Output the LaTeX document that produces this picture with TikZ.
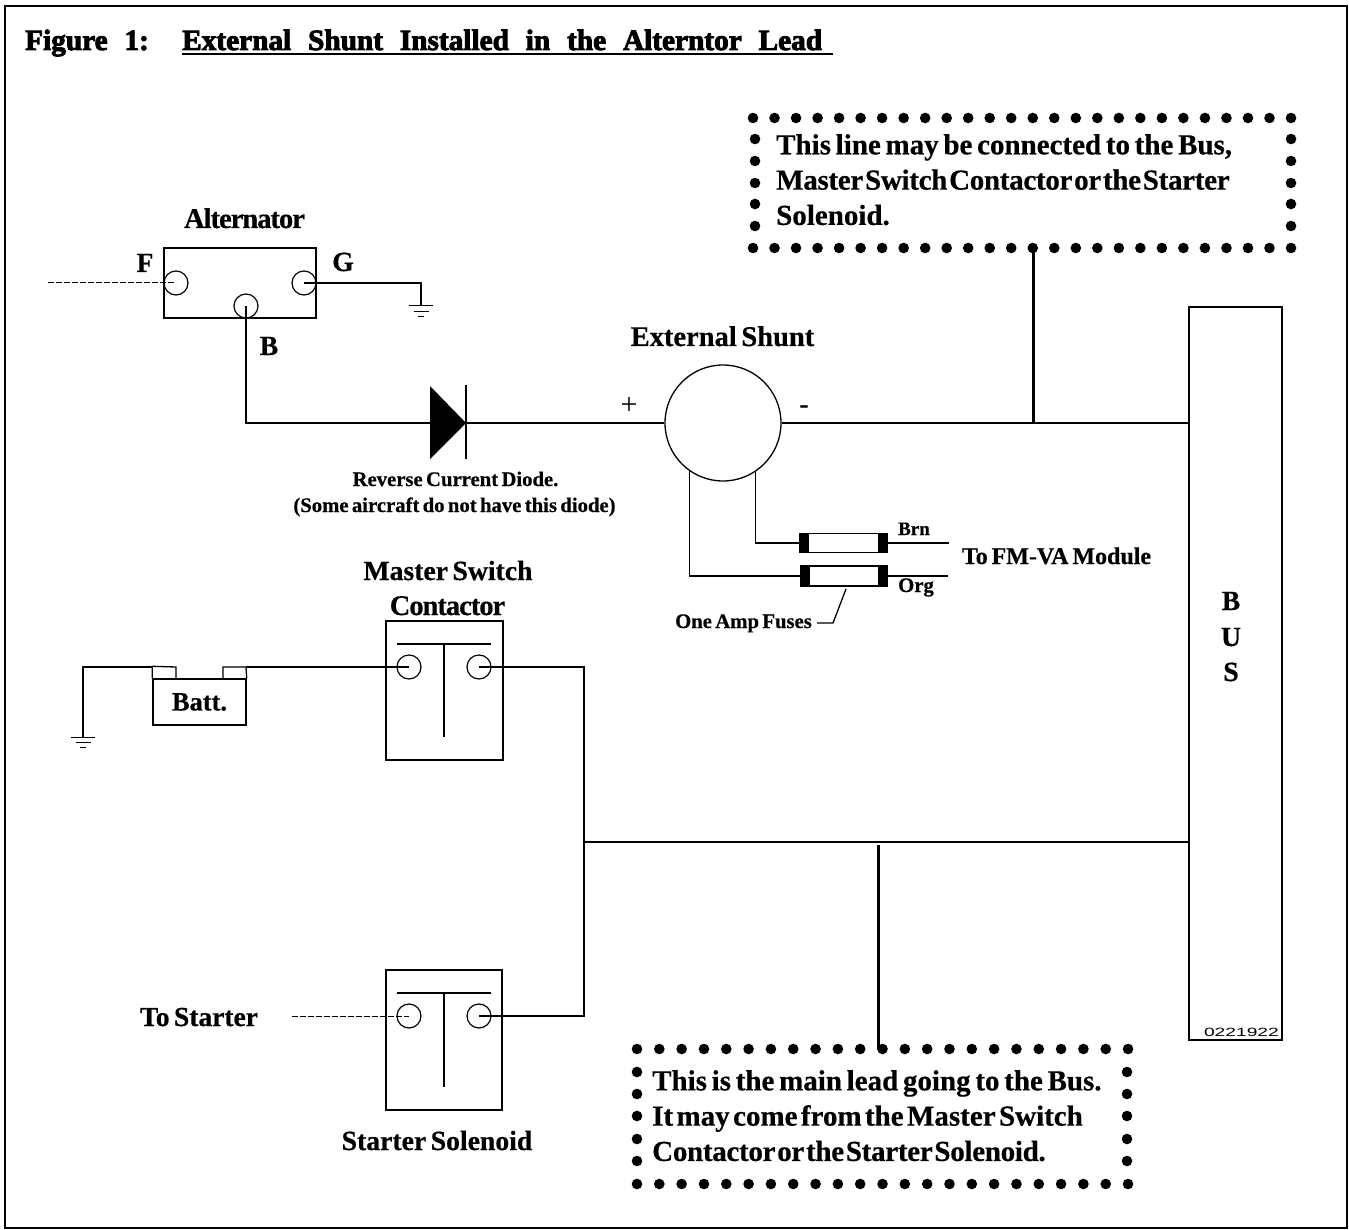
\documentclass[tikz,border=0pt]{standalone}
\usepackage{fontspec}
\setmainfont[WordSpace=0.65,BoldFeatures={FakeBold=0.5}]{Liberation Serif}
\newfontfamily\titlefont[WordSpace=2.3,BoldFeatures={FakeBold=3}]{Liberation Serif}
\newfontfamily\tagfont[FakeStretch=1.6]{Liberation Sans}
\newfontfamily\packedfont[WordSpace=0.25,LetterSpace=-1,BoldFeatures={FakeBold=0.5}]{Liberation Serif}
\newfontfamily\midfont[WordSpace=0.47,BoldFeatures={FakeBold=0.5}]{Liberation Serif}
\usetikzlibrary{positioning}
\tikzstyle{wire}=[line width=1.3pt]
\tikzstyle{thin wire}=[line width=1pt,dash pattern=on 6pt off 2pt]
\tikzstyle{tap}=[line width=3pt]
\tikzstyle{block}=[draw,line width=1.4pt,fill=white,rectangle,inner sep=0pt]
\tikzstyle{term}=[draw,line width=1.2pt,circle,minimum size=24pt,inner sep=0pt]
\tikzstyle{dot}=[fill=black]
\tikzstyle{note}=[inner sep=0pt,font=\fontsize{29}{35.3}\selectfont\bfseries,align=left]
\tikzstyle{big}=[inner sep=0pt,font=\fontsize{27.7}{35}\selectfont\bfseries]
\tikzstyle{tight}=[inner sep=0pt,font=\fontsize{28.5}{35}\selectfont\bfseries\addfontfeature{LetterSpace=-3.5}]
\tikzstyle{small}=[inner sep=0pt,font=\fontsize{20.7}{26}\selectfont\bfseries,align=center]
\tikzstyle{head}=[anchor=base west,inner sep=0pt,font=\fontsize{29.3}{30}\titlefont\bfseries]
\newcommand{\gnd}[1]{\draw[line width=1pt] (#1)+(-12,0) -- +(12,0) (#1)+(-7.5,5.5) -- +(7.5,5.5) (#1)+(-3,10.5) -- +(3,10.5);}
\newcommand{\packed}[1]{{\packedfont\bfseries #1}}
\begin{document}
\begin{tikzpicture}[x=1pt,y=-1pt]
    \useasboundingbox (0,0) rectangle (1349,1230);
    \draw[line width=2.6pt] (5,6) rectangle (1347,1228);

    \node[head] (fig) at (25,50) {Figure 1:};
    \node[head] (title) at (182,50) {External Shunt Installed in the Alterntor Lead};
    \draw[line width=2pt] (182,54) -- (833,54);

    % alternator
    \node[block,minimum width=152pt,minimum height=70pt] (alt) at (240,283) {};
    \node[tight,anchor=base] (altname) at (244.5,228) {Alternator};
    \node[term] (tF) at (176,283) {};
    \node[term] (tG) at (304,283) {};
    \node[term] (tB) at (246,306) {};
    \node[big,anchor=base] (lF) at (145,272) {F};
    \node[big,anchor=base] (lG) at (343,271) {G};
    \node[big,anchor=base] (lB) at (269,355) {B};
    \coordinate (fEnd) at (48,283);
    \coordinate (gndA) at (421,306);
    \draw[thin wire] (fEnd) -- (tF.center);
    \draw[wire] (tG.center) -| (gndA);
    \gnd{gndA}

    % diode
    \coordinate (dIn) at (430,423);
    \coordinate (dOut) at (466,423);
    \fill (430,386) -- (466,423) -- (430,459) -- cycle;
    \draw[line width=2pt] (466,385) -- (466,459);
    \draw[wire] (tB.center) |- (dIn);
    \node[small,anchor=base] (diode1) at (455.5,486) {Reverse Current Diode.};
    \node[small,anchor=base] (diode2) at (454.5,512) {(Some aircraft do not have this diode)};

    % shunt
    \node[draw,line width=1.3pt,circle,minimum size=116pt,inner sep=0pt] (shunt) at (723,423) {};
    \node[big,anchor=base,font=\fontsize{28.5}{35}\selectfont\bfseries] (shuntname) at (722.5,346) {External Shunt};
    \node[anchor=base,inner sep=0pt,font=\fontsize{30}{30}\selectfont] (plus) at (629,414) {+};
    \node[big,anchor=base] (minus) at (804,413) {-};

    % bus
    \node[block,minimum width=93pt,minimum height=733pt] (bus) at (1235.5,673.5) {};
    \node[big,anchor=base] (lbus1) at (1231,610) {B};
    \node[big,anchor=base] (lbus2) at (1231,646) {U};
    \node[big,anchor=base] (lbus3) at (1231,681) {S};
    \node[anchor=base east,inner sep=0pt,font=\fontsize{12}{13}\tagfont] (tag) at (1279,1036) {0221922};
    \coordinate (busA) at (bus.west |- shunt);
    \coordinate (busB) at (1189,842);
    \draw[wire] (dOut) -- (shunt.west);
    \draw[wire] (shunt.east) -- (busA);

    % fuses
    \node[block,minimum width=87pt,minimum height=19pt] (fuseA) at (843.5,543) {};
    \node[block,minimum width=86pt,minimum height=20pt] (fuseB) at (844,576) {};
    \fill (fuseA.north west) rectangle +(10,19);
    \fill (fuseA.north east) rectangle +(-10,19);
    \fill (fuseB.north west) rectangle +(10,20);
    \fill (fuseB.north east) rectangle +(-10,20);
    \coordinate (brnEnd) at (949,543);
    \coordinate (orgEnd) at (948,576);
    \draw[wire] (shunt.-56) |- (fuseA.west);
    \draw[wire] (shunt.-125) |- (fuseB.west);
    \draw[wire] (fuseA.east) -- (brnEnd);
    \draw[wire] (fuseB.east) -- (orgEnd);
    \node[small,anchor=base,font=\fontsize{19}{20}\selectfont\bfseries] (brn) at (914,535) {Brn};
    \node[small,anchor=base] (org) at (916,592) {Org};
    \node[big,anchor=base,font=\fontsize{24}{26}\selectfont\bfseries] (fm) at (1056.5,564) {To FM-VA Module};
    \node[small,anchor=base] (amp) at (743.5,628) {One Amp Fuses};
    \draw[wire] (846,589) -- (833,623) -- (817,623);

    % battery
    \node[block,minimum width=93pt,minimum height=46pt,font=\fontsize{26.4}{30}\selectfont\bfseries] (batt) at (199.5,702) {Batt.};
    \draw[wire] (batt.north west) -- +(0,-12) -- (176,667) -- (176,679);
    \draw[wire] (223,679) -- (223,667) -- (246,667) -- (batt.north east);
    \coordinate (gndB) at (83,737);
    \coordinate (battL) at (153,667);
    \coordinate (battR) at (246,667);
    \draw[wire] (gndB) |- (battL);
    \gnd{gndB}

    % master switch contactor
    \node[block,minimum width=117pt,minimum height=139pt] (master) at (444.5,690.5) {};
    \node[term] (m1) at (409,667) {};
    \node[term] (m2) at (479,667) {};
    \draw[wire] (397,644) -- (491,644) (444,644) -- (444,737);
    \node[big,anchor=base] (mname1) at (448,580) {Master Switch};
    \node[tight,anchor=base] (mname2) at (447.5,615) {Contactor};
    \draw[wire] (battR) -- (m1.center);

    % starter solenoid
    \node[block,minimum width=116pt,minimum height=140pt] (sol) at (444,1040) {};
    \node[term] (s1) at (409,1016) {};
    \node[term] (s2) at (479,1016) {};
    \draw[wire] (397,993) -- (491,993) (444,993) -- (444,1087);
    \node[big,anchor=base] (sname) at (437,1150) {Starter Solenoid};
    \node[big,anchor=base,font=\fontsize{27.5}{35}\selectfont\bfseries] (toS) at (199,1026) {To Starter};
    \coordinate (sEnd) at (292,1016);
    \draw[thin wire] (sEnd) -- (s1.center);

    % main lead
    \coordinate (tee) at (584,842);
    \draw[wire] (m2.center) -| (tee);
    \draw[wire] (s2.center) -| (tee);
    \draw[wire] (tee) -- (busB);

    % notes
    \foreach \i in {0,...,25} {
        \fill[dot] (753+\i*21.52,118) circle (5.3);
        \fill[dot] (753+\i*21.52,248) circle (5.3);
    }
    \foreach \y in {139,161,183,204,226} {
        \fill[dot] (755,\y) circle (5.3);
        \fill[dot] (1291,\y) circle (5.3);
    }
    \node[note,anchor=north west] (noteA) at (776,134) {This line may be connected to the Bus,\\\packed{Master Switch Contactor or the Starter}\\Solenoid.};
    \coordinate (noteAfoot) at (1033,247);
    \coordinate (noteAwire) at (1033,423);
    \draw[tap] (noteAfoot) -- (noteAwire);

    \foreach \i in {0,...,22} {
        \fill[dot] (637+\i*22.32,1049) circle (5.3);
        \fill[dot] (637+\i*22.32,1184) circle (5.3);
    }
    \foreach \y in {1072,1094,1116,1139,1161} {
        \fill[dot] (637,\y) circle (5.3);
        \fill[dot] (1127,\y) circle (5.3);
    }
    \node[note,anchor=north west] (noteB) at (652,1070) {This is the main lead going to the Bus.\\{\midfont\bfseries It may come from the Master Switch}\\\packed{Contactor or the Starter Solenoid.}};
    \coordinate (noteBhead) at (878,845);
    \coordinate (noteBfoot) at (878,1050);
    \draw[tap] (noteBhead) -- (noteBfoot);
\end{tikzpicture}
\end{document}
